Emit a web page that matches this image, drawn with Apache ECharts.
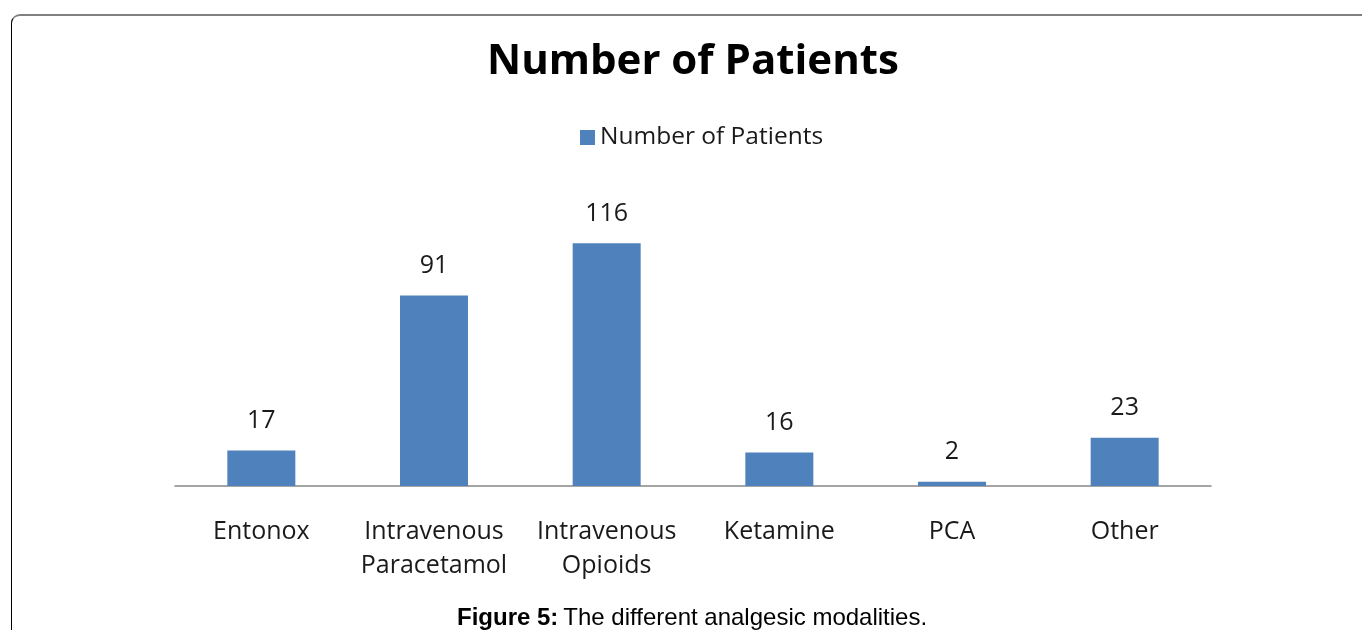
<!DOCTYPE html>
<html>
<head>
<meta charset="utf-8">
<script src="https://cdn.jsdelivr.net/npm/echarts@6/dist/echarts.min.js"></script>
<style>
  html, body { margin: 0; padding: 0; background: #fff; }
  #wrap { position: relative; width: 1362px; height: 630px; overflow: hidden; }
  #chart { width: 1362px; height: 630px; }
  #frame {
    position: absolute; left: 11px; top: 14px; width: 1400px; height: 700px;
    border-top: 2px solid #808080; border-left: 1.5px solid #000;
    border-top-left-radius: 9px; pointer-events: none; box-sizing: border-box;
  }
</style>
</head>
<body>
<div id="wrap">
  <div id="chart"></div>
  <div id="frame"></div>
</div>
<script>
var categories = ['Entonox', 'Intravenous\nParacetamol', 'Intravenous\nOpioids', 'Ketamine', 'PCA', 'Other']
var patients = [17, 91, 116, 16, 2, 23]
var seriesName = 'Number of Patients'
var chartTitle = 'Number of Patients'

var chart = echarts.init(document.getElementById('chart'))
chart.setOption({
  animation: false,
  title: [{
    text: chartTitle,
    left: 482,
    top: 36,
    textStyle: {
      fontFamily: 'Open Sans',
      fontWeight: 'bold',
      fontSize: 42,
      color: '#000'
    }
  }, {
    text: '{b|Figure 5:} {n|The different analgesic modalities.}',
    left: 452,
    top: 601,
    textStyle: {
      rich: {
        b: { fontFamily: 'Liberation Sans', fontWeight: 'bold', fontSize: 24, color: '#000' },
        n: { fontFamily: 'Liberation Sans', fontWeight: 'normal', fontSize: 24, color: '#000' }
      }
    }
  }],
  legend: {
    top: 120,
    left: 575,
    itemWidth: 15,
    itemHeight: 15,
    itemGap: 8,
    icon: 'rect',
    textStyle: { fontFamily: 'Open Sans', fontSize: 24.5, color: '#1a1a1a' },
    data: [seriesName]
  },
  grid: {
    left: 175,
    right: 151,
    top: 193,
    bottom: 144,
    containLabel: false
  },
  xAxis: {
    type: 'category',
    data: categories,
    axisLine: { lineStyle: { color: '#888', width: 1.5 } },
    axisTick: { show: false },
    axisLabel: {
      interval: 0,
      margin: 29,
      fontFamily: 'Open Sans',
      fontSize: 25,
      lineHeight: 34,
      color: '#1a1a1a'
    }
  },
  yAxis: {
    type: 'value',
    min: 0,
    max: 140,
    show: false,
    splitLine: { show: false }
  },
  series: [{
    name: seriesName,
    type: 'bar',
    data: patients,
    barWidth: 68,
    itemStyle: { color: '#4F81BD' },
    label: {
      show: true,
      position: 'top',
      distance: 17,
      fontFamily: 'Open Sans',
      fontSize: 25,
      color: '#1a1a1a'
    }
  }]
})
</script>
</body>
</html>
